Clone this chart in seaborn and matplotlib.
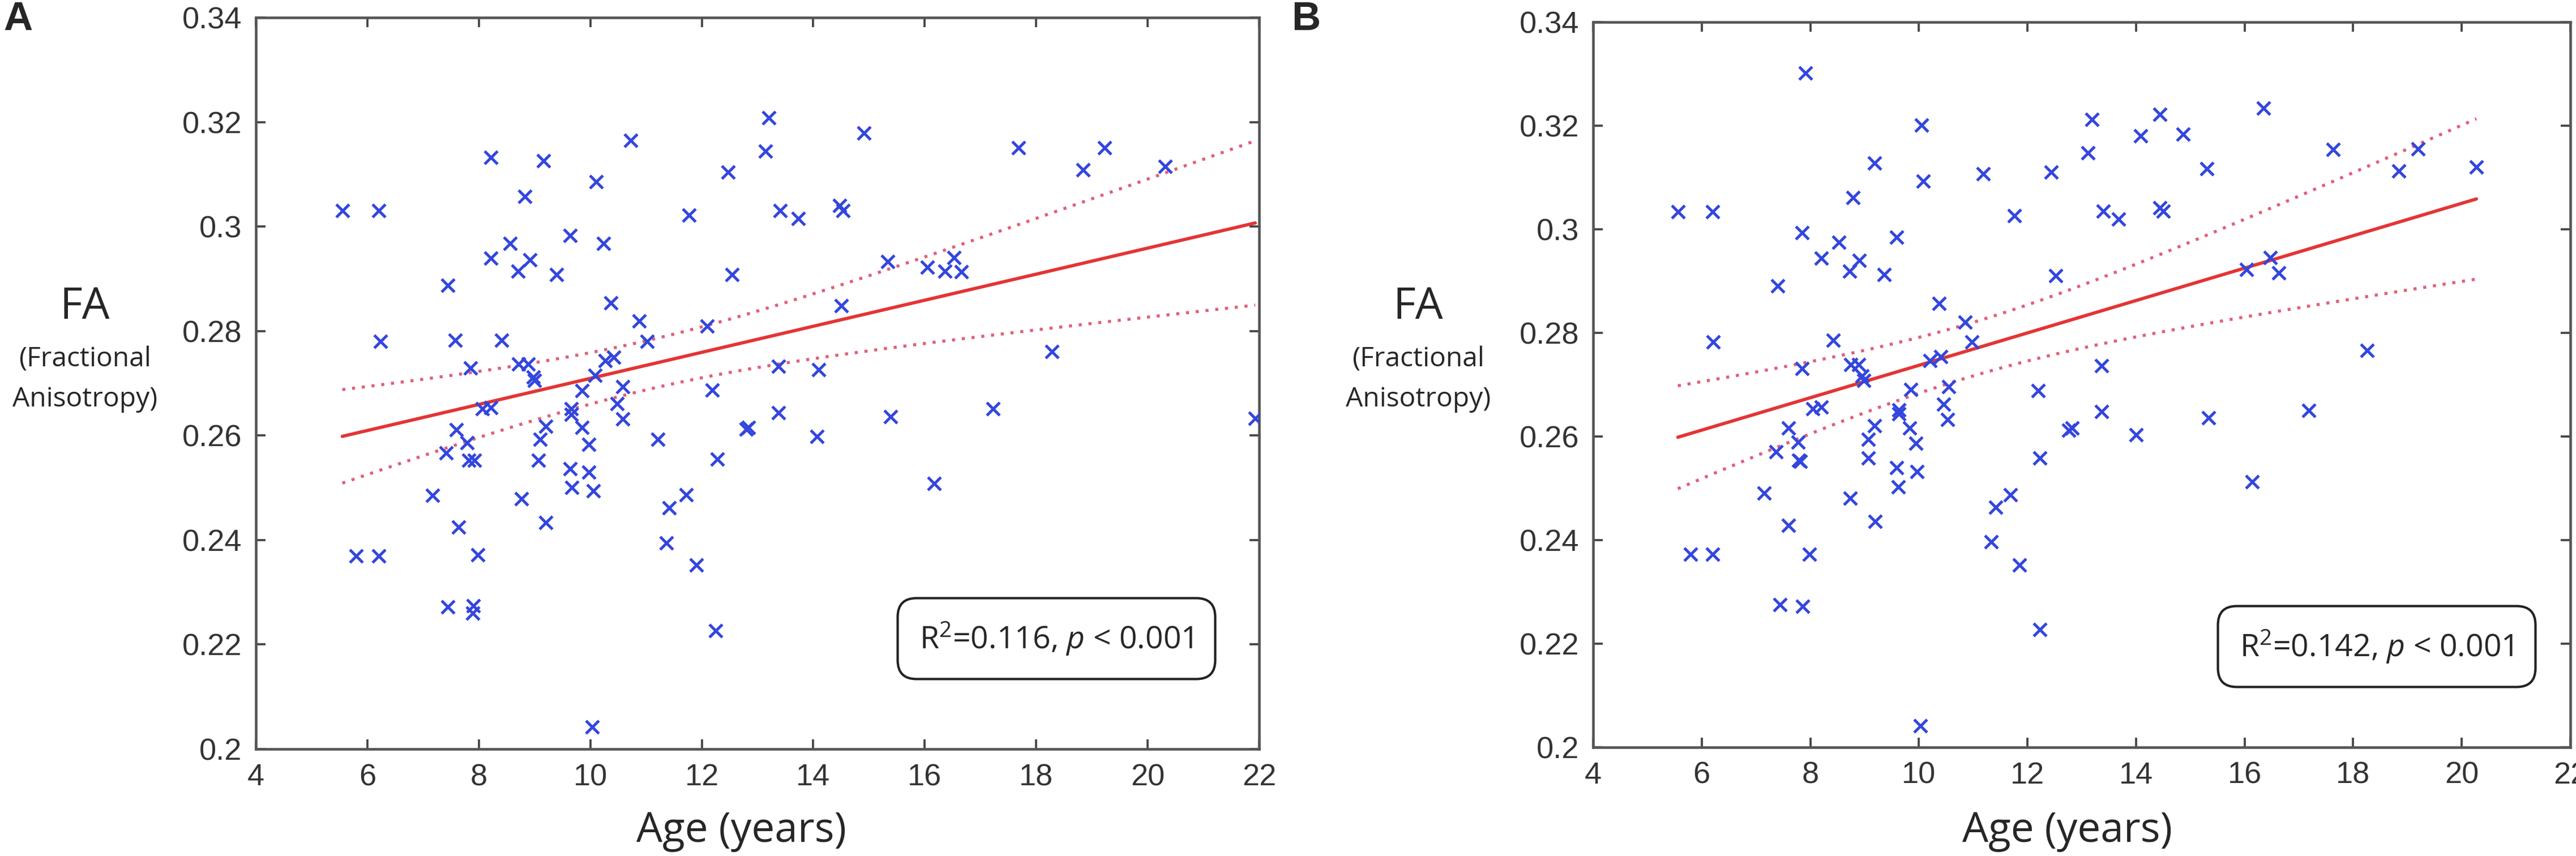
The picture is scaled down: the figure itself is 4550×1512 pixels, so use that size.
import numpy as np
import pandas as pd
import matplotlib.pyplot as plt
import seaborn as sns

# Panel A: age (years) vs FA
age_a = [5.55, 6.2, 6.23, 5.8, 6.2, 7.44, 7.58, 7.41, 7.6, 7.64, 7.17, 7.44, 7.9, 7.89,
         7.98, 7.85, 7.79, 7.82, 7.92, 8.06, 8.22, 8.22, 8.22, 8.41, 8.56, 8.7, 8.82, 8.76,
         8.71, 8.89, 8.92, 8.98, 9.0, 9.16, 9.07, 9.1, 9.2, 9.2, 9.39, 9.64, 9.66, 9.66,
         9.64, 9.67, 9.85, 9.85, 9.97, 9.97, 10.05, 10.03, 10.08, 10.11, 10.24, 10.27,
         10.37, 10.42, 10.48, 10.58, 10.58, 10.72, 10.88, 11.02, 11.21, 11.36, 11.42,
         11.72, 11.77, 11.9, 12.1, 12.19, 12.25, 12.28, 12.47, 12.54, 12.8, 12.84, 13.14,
         13.2, 13.38, 13.38, 13.41, 13.73, 14.07, 14.1, 14.47, 14.53, 14.5, 14.91, 15.34,
         15.39, 16.05, 16.17, 16.36, 16.52, 16.66, 17.23, 17.68, 18.28, 18.84, 19.23,
         20.31, 21.93]
fa_a = [0.303, 0.303, 0.278, 0.237, 0.237, 0.2887, 0.2782, 0.2567, 0.2611, 0.2425, 0.2485,
        0.2272, 0.2274, 0.226, 0.2372, 0.2729, 0.2586, 0.2553, 0.2553, 0.2651, 0.2653,
        0.3132, 0.294, 0.2782, 0.2968, 0.2915, 0.3058, 0.2479, 0.2737, 0.2737, 0.2936,
        0.2712, 0.2705, 0.3126, 0.2553, 0.2593, 0.2618, 0.2433, 0.2908, 0.2983, 0.2651,
        0.264, 0.2536, 0.2501, 0.2686, 0.2615, 0.2583, 0.253, 0.2494, 0.2042, 0.2715,
        0.3086, 0.2968, 0.2743, 0.2854, 0.275, 0.2661, 0.2693, 0.2632, 0.3165, 0.2819,
        0.278, 0.2593, 0.2394, 0.2462, 0.2486, 0.3022, 0.2352, 0.2809, 0.2687, 0.2226,
        0.2555, 0.3104, 0.2908, 0.2612, 0.2615, 0.3144, 0.3208, 0.2733, 0.2644, 0.303,
        0.3015, 0.2598, 0.2726, 0.304, 0.303, 0.2848, 0.3179, 0.2933, 0.2636, 0.2922,
        0.2508, 0.2915, 0.2941, 0.2913, 0.2651, 0.3151, 0.2761, 0.3108, 0.3151, 0.3115,
        0.2633]

# Panel B
age_b = [5.56, 6.2, 6.21, 5.79, 6.2, 7.4, 7.37, 7.6, 7.6, 7.15, 7.44, 7.86, 7.98, 7.91,
         7.85, 7.85, 7.77, 7.79, 7.82, 8.05, 8.2, 8.2, 8.42, 8.53, 8.72, 8.79, 8.73, 8.74,
         8.89, 8.9, 8.95, 8.98, 9.18, 9.07, 9.07, 9.18, 9.19, 9.36, 9.59, 9.63, 9.63, 9.59,
         9.62, 9.85, 9.83, 9.94, 9.97, 10.03, 10.05, 10.08, 10.21, 10.37, 10.4, 10.46,
         10.55, 10.53, 10.85, 10.98, 11.19, 11.33, 11.42, 11.69, 11.76, 11.85, 12.2,
         12.23, 12.23, 12.44, 12.52, 12.76, 12.82, 13.11, 13.19, 13.36, 13.36, 13.4,
         13.68, 14.0, 14.08, 14.44, 14.44, 14.5, 14.87, 15.3, 15.34, 16.03, 16.14, 16.35,
         16.47, 16.63, 17.18, 17.63, 18.26, 18.84, 19.19, 20.27]
fa_b = [0.3034, 0.3034, 0.2783, 0.2373, 0.2373, 0.2891, 0.2571, 0.2616, 0.2428, 0.2491,
        0.2275, 0.2272, 0.2373, 0.3302, 0.2993, 0.2731, 0.2589, 0.2554, 0.2552, 0.2654,
        0.2657, 0.2944, 0.2786, 0.2975, 0.2919, 0.3061, 0.2481, 0.2739, 0.2739, 0.294,
        0.2717, 0.2708, 0.3128, 0.2558, 0.2595, 0.2621, 0.2436, 0.2913, 0.2985, 0.2651,
        0.2644, 0.254, 0.2503, 0.2691, 0.2616, 0.2587, 0.2532, 0.2042, 0.3201, 0.3093,
        0.2746, 0.2857, 0.2754, 0.2662, 0.2696, 0.2633, 0.2821, 0.2783, 0.3107, 0.2397,
        0.2463, 0.2487, 0.3026, 0.2352, 0.2689, 0.2227, 0.2558, 0.311, 0.291, 0.2612,
        0.2616, 0.3148, 0.3212, 0.2737, 0.2648, 0.3035, 0.302, 0.2603, 0.318, 0.3222,
        0.3041, 0.3035, 0.3184, 0.3117, 0.2636, 0.2922, 0.2513, 0.3234, 0.2945, 0.2916,
        0.265, 0.3154, 0.2766, 0.3113, 0.3155, 0.312]

panel_labels = ["A", "B"]
stats_text = [r"R$^2$=0.116, $\it{p}$ < 0.001", r"R$^2$=0.142, $\it{p}$ < 0.001"]
x_ticks = list(range(4, 23, 2))
y_ticks = [0.2, 0.22, 0.24, 0.26, 0.28, 0.3, 0.32, 0.34]

sns.set_style("ticks")
plt.rcParams["font.family"] = ["Open Sans", "DejaVu Sans"]
plt.rcParams["mathtext.fontset"] = "custom"
plt.rcParams["mathtext.rm"] = "Open Sans"
plt.rcParams["mathtext.it"] = "Open Sans:italic"

W, H = 4550, 1512
fig = plt.figure(figsize=(W / 300, H / 300), dpi=300)


def px_axes(l, t, r, b):
    return fig.add_axes([l / W, 1 - b / H, (r - l) / W, (b - t) / H])


def fit_lines(x, y):
    x = np.asarray(x)
    y = np.asarray(y)
    n = len(x)
    slope, icpt = np.polyfit(x, y, 1)
    xs = np.linspace(x.min(), x.max(), 100)
    yhat = icpt + slope * xs
    resid = y - (icpt + slope * x)
    s = np.sqrt(np.sum(resid ** 2) / (n - 2))
    sxx = np.sum((x - x.mean()) ** 2)
    half = 1.984 * s * np.sqrt(1 / n + (xs - x.mean()) ** 2 / sxx)
    return xs, yhat, yhat - half, yhat + half


axes = [px_axes(452, 31, 2224, 1323), px_axes(2814, 39, 4540, 1320)]
data = [(age_a, fa_a), (age_b, fa_b)]
boxes = [(1866, 1128), (4198, 1142)]
ylab_x = [150, 2505]
xlab_x = [1310, 3652]
letter_x = [6, 2281]

for i, ax in enumerate(axes):
    x, y = data[i]
    df = pd.DataFrame({"age": x, "fa": y})
    xs, yhat, lo, hi = fit_lines(x, y)
    sns.lineplot(x=xs, y=hi, ax=ax, color="#e0607a", lw=1.3, linestyle=(0, (1, 2.2)))
    sns.lineplot(x=xs, y=lo, ax=ax, color="#e0607a", lw=1.3, linestyle=(0, (1, 2.2)))
    sns.lineplot(x=xs, y=yhat, ax=ax, color="#e33535", lw=1.4)
    sns.scatterplot(data=df, x="age", y="fa", ax=ax, marker="x", color="#3346dd",
                    s=30, linewidth=1.2, zorder=3)
    ax.set_xlim(4, 22)
    ax.set_ylim(0.2, 0.34)
    ax.set_xticks(x_ticks)
    ax.set_yticks(y_ticks)
    ax.set_xticklabels([str(t) for t in x_ticks])
    ax.set_yticklabels(["%g" % t for t in y_ticks])
    ax.set_xlabel("")
    ax.set_ylabel("")
    ax.tick_params(direction="in", top=True, right=True, length=4, width=0.9,
                   color="#444444", labelsize=13, labelcolor="#333333", pad=6)
    for lab in ax.get_xticklabels() + ax.get_yticklabels():
        lab.set_family(["Liberation Sans Narrow", "Liberation Sans", "DejaVu Sans"])
    for sp in ax.spines.values():
        sp.set_visible(True)
        sp.set_color("#555555")
        sp.set_linewidth(1.1)

    bx, by = boxes[i]
    fig.text(bx / W, 1 - by / H, stats_text[i], ha="center", va="center", fontsize=13.3,
             bbox=dict(boxstyle="round,pad=0.7,rounding_size=0.6", fc="white",
                       ec="#222222", lw=1.0))
    fig.text(ylab_x[i] / W, 1 - 543 / H, "FA", ha="center", va="center", fontsize=18.5)
    fig.text(ylab_x[i] / W, 1 - 635 / H, "(Fractional", ha="center", va="center",
             fontsize=11.5)
    fig.text(ylab_x[i] / W, 1 - 705 / H, "Anisotropy)", ha="center", va="center",
             fontsize=11.5)
    fig.text(xlab_x[i] / W, 1 - 1468 / H, "Age (years)", ha="center", va="center",
             fontsize=17.5)
    fig.text(letter_x[i] / W, 1 - 35 / H, panel_labels[i], ha="left", va="center",
             fontsize=17, fontweight="bold", family=["Liberation Sans", "DejaVu Sans"])

fig.savefig("out.png", dpi=300)
